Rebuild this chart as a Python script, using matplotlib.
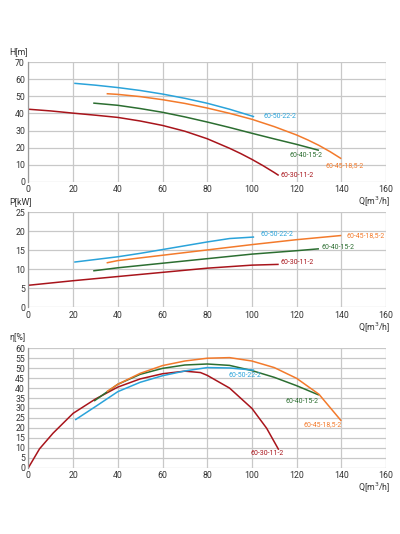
import matplotlib
matplotlib.use("Agg")
import matplotlib.pyplot as plt

plt.rcParams['font.family'] = ['Roboto', 'DejaVu Sans']

names = ["60-30-11-2", "60-40-15-2", "60-45-18,5-2", "60-50-22-2"]
colors = ["#a8141b", "#2c6e31", "#f37a2b", "#2aa3da"]

# Head H [m]
h_q = [
    [0, 10, 20, 30, 40, 50, 60, 70, 80, 90, 95, 100, 105, 110, 112],
    [29, 40, 50, 60, 70, 80, 90, 100, 110, 120, 130],
    [35, 40, 50, 60, 70, 80, 90, 100, 110, 120, 125, 130, 135, 140],
    [20.5, 30, 40, 50, 60, 70, 80, 90, 101],
]
h_v = [
    [42.5, 41.5, 40.2, 39.0, 37.7, 35.6, 33.0, 29.6, 25.2, 19.6, 16.5, 13.1, 9.4, 5.4, 3.7],
    [46.1, 44.8, 42.9, 40.7, 38.0, 35.0, 31.8, 28.4, 25.1, 21.9, 18.4],
    [51.6, 51.2, 49.9, 48.1, 45.9, 43.2, 40.1, 36.6, 32.3, 27.4, 24.5, 21.3, 17.6, 13.5],
    [57.7, 56.6, 55.2, 53.5, 51.4, 48.9, 46.0, 42.5, 38.1],
]

# Power P [kW]
p_q = [
    [0, 20, 40, 60, 80, 100, 112],
    [29, 40, 60, 80, 100, 120, 130],
    [35, 40, 60, 80, 100, 120, 140],
    [20.5, 40, 50, 60, 70, 80, 90, 101],
]
p_v = [
    [5.8, 7.0, 8.1, 9.2, 10.3, 11.1, 11.3],
    [9.6, 10.4, 11.6, 12.8, 14.0, 14.9, 15.4],
    [11.7, 12.3, 13.7, 15.1, 16.5, 17.8, 18.9],
    [11.9, 13.3, 14.2, 15.2, 16.2, 17.2, 18.1, 18.5],
]

# Efficiency eta [%]
e_q = [
    [0, 5, 11, 20, 30, 40, 50, 60, 70, 77, 80, 90, 100, 106.6, 112],
    [29.4, 40, 50, 60, 70, 80, 90, 100, 110, 120, 130],
    [35.1, 40, 50, 60, 70, 80, 90, 100, 110, 120, 130, 140],
    [20.9, 30, 40, 50, 60, 70, 80, 90, 101],
]
e_v = [
    [0, 9.5, 17.3, 27.3, 34.5, 40.5, 44.6, 47.2, 48.5, 47.8, 46.4, 40.0, 29.8, 19.8, 9.0],
    [33.5, 41.9, 46.9, 49.9, 51.6, 52.1, 51.4, 48.8, 45.4, 41.2, 36.5],
    [38.2, 41.9, 47.4, 51.3, 53.6, 55.0, 55.3, 53.6, 50.3, 44.9, 36.9, 23.5],
    [24.0, 30.7, 38.2, 42.9, 46.2, 48.6, 50.3, 50.1, 49.0],
]

label_pos_h = [(112.6, 3.9), (117, 15.2), (133, 9.2), (105.4, 38.3)]
label_pos_p = [(113, 11.7), (131.2, 15.8), (142.4, 18.8), (104, 19.2)]
label_pos_e = [(99.2, 6.9), (115, 33.2), (123.3, 21.8), (89.6, 46.1)]

x_ticks = [0, 20, 40, 60, 80, 100, 120, 140, 160]

fig = plt.figure(figsize=(4.0, 5.34), dpi=100)
left, width = 0.071, 0.894
axes_specs = [
    (0.6597, 0.8833 - 0.6597, h_q, h_v, label_pos_h, 70, 10, "H[m]"),
    (0.4245, 0.6024 - 0.4245, p_q, p_v, label_pos_p, 25, 5, "P[kW]"),
    (0.1242, 0.3478 - 0.1242, e_q, e_v, label_pos_e, 60, 5, "η[%]"),
]

for bottom, height, qs, vs, lpos, ymax, ystep, ylab in axes_specs:
    ax = fig.add_axes([left, bottom, width, height])
    ax.set_xlim(0, 160)
    ax.set_ylim(0, ymax)
    ax.set_xticks(x_ticks)
    ax.set_yticks(list(range(0, ymax + 1, ystep)))
    ax.grid(True, color="#c8c8c8", linewidth=0.9)
    ax.set_axisbelow(True)
    for s in ax.spines.values():
        s.set_visible(False)
    ax.spines['left'].set_visible(True)
    ax.spines['left'].set_color("#9a9a9a")
    ax.spines['left'].set_linewidth(0.9)
    ax.tick_params(axis='both', length=0, labelsize=6.3, colors="#333333", pad=2.5)
    for q, v, c in zip(qs, vs, colors):
        ax.plot(q, v, color=c, linewidth=1.1, solid_capstyle='butt',
                solid_joinstyle='round')
    for (lx, ly), n, c in zip(lpos, names, colors):
        ax.text(lx, ly, n, color=c, fontsize=5, ha='left', va='center')
    ax.annotate(ylab, xy=(0, 1), xycoords='axes fraction',
                xytext=(-14, 8), textcoords='offset points',
                fontsize=6.3, color="#333333", ha='left', va='center')
    ax.annotate("Q[m$^3$/h]", xy=(1, 0), xycoords='axes fraction',
                xytext=(3, -14.5), textcoords='offset points',
                fontsize=6.3, color="#333333", ha='right', va='center')

fig.savefig("out.png", dpi=100, facecolor="white")
